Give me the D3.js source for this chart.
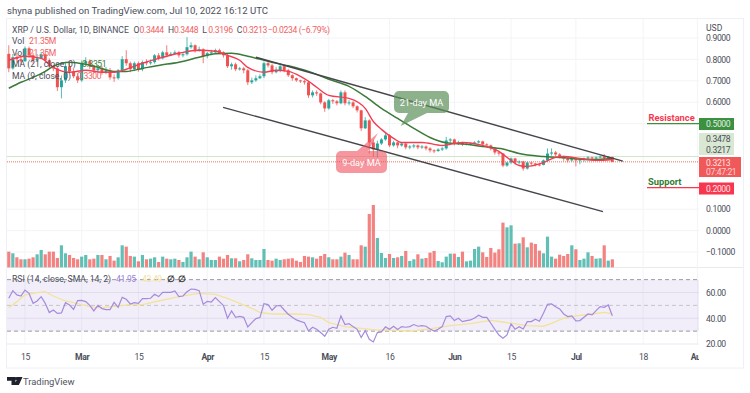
<!DOCTYPE html>
<html>
<head>
<meta charset="utf-8">
<script src="https://cdnjs.cloudflare.com/ajax/libs/d3/7.8.5/d3.min.js"></script>
<style>
  body { margin: 0; background: white; }
  svg { display: block; }
  text { font-family: Roboto, sans-serif; }
</style>
</head>
<body>
<div id="container"></div>
<script>
let w = 750;
let h = 393;

// daily bars, 0 = Feb 11 2022, 149 = Jul 10 2022
const opens = [.826,.758,.810,.801,.791,.852,.819,.796,.805,.824,
  .796,.768,.758,.670,.702,.768,.744,.721,.702,.782,
  .791,.768,.749,.758,.740,.749,.716,.712,.749,.801,
  .782,.754,.782,.754,.787,.782,.787,.819,.805,.833,
  .819,.826,.833,.819,.824,.857,.866,.843,.847,.815,
  .829,.833,.843,.833,.819,.768,.777,.754,.758,.749,
  .693,.702,.712,.721,.782,.772,.740,.749,.768,.749,
  .726,.712,.702,.698,.693,.632,.646,.641,.599,.571,
  .609,.604,.595,.646,.595,.599,.581,.562,.478,.515,
  .412,.379,.407,.426,.445,.398,.412,.398,.407,.389,
  .393,.398,.389,.393,.384,.375,.372,.379,.384,.421,
  .426,.407,.412,.403,.405,.407,.412,.417,.403,.398,
  .384,.365,.360,.304,.318,.337,.318,.323,.290,.318,
  .314,.309,.307,.328,.360,.365,.356,.346,.337,.328,
  .337,.328,.332,.337,.342,.337,.342,.346,.337,.3444];
const closes = [.758,.810,.801,.791,.852,.819,.796,.805,.824,.796,
  .768,.758,.670,.702,.768,.744,.721,.702,.782,.791,
  .768,.749,.758,.740,.749,.716,.712,.749,.801,.782,
  .754,.782,.754,.787,.782,.787,.819,.805,.833,.819,
  .826,.833,.819,.824,.857,.866,.843,.847,.815,.829,
  .833,.843,.833,.819,.768,.777,.754,.758,.749,.693,
  .702,.712,.721,.782,.772,.740,.749,.768,.749,.726,
  .712,.702,.698,.693,.632,.646,.641,.599,.571,.609,
  .604,.595,.646,.595,.599,.581,.562,.478,.515,.412,
  .379,.407,.426,.445,.398,.412,.398,.407,.389,.393,
  .398,.389,.393,.384,.375,.372,.379,.384,.421,.426,
  .407,.412,.403,.405,.407,.412,.417,.403,.398,.384,
  .365,.360,.304,.318,.337,.318,.323,.290,.318,.314,
  .309,.307,.328,.360,.365,.356,.346,.337,.328,.337,
  .328,.332,.337,.342,.337,.342,.346,.337,.3447,.3213];
const highs = [.866,.825,.830,.815,.860,.860,.830,.825,.835,.835,
  .805,.775,.765,.725,.785,.785,.755,.735,.795,.810,
  .800,.775,.775,.770,.765,.760,.730,.755,.815,.843,
  .790,.790,.790,.795,.800,.800,.825,.830,.840,.866,
  .835,.842,.840,.830,.904,.880,.870,.860,.852,.835,
  .845,.850,.850,.838,.825,.785,.785,.765,.765,.755,
  .715,.725,.730,.790,.795,.780,.765,.780,.775,.755,
  .730,.715,.705,.705,.700,.655,.655,.645,.605,.615,
  .615,.610,.655,.655,.610,.605,.585,.565,.530,.520,
  .425,.420,.432,.455,.450,.420,.415,.412,.410,.400,
  .405,.402,.400,.398,.390,.380,.385,.390,.438,.432,
  .430,.420,.415,.410,.412,.418,.423,.420,.408,.402,
  .390,.370,.362,.322,.342,.340,.328,.326,.322,.322,
  .316,.313,.332,.384,.384,.372,.362,.350,.341,.345,
  .342,.338,.342,.348,.345,.346,.350,.358,.348,.3448];
const lows = [.740,.752,.785,.775,.790,.808,.782,.788,.802,.785,
  .755,.745,.652,.618,.690,.735,.712,.690,.695,.772,
  .755,.735,.738,.728,.730,.705,.695,.705,.745,.770,
  .740,.745,.742,.745,.772,.775,.780,.795,.800,.810,
  .815,.822,.808,.810,.818,.850,.832,.835,.782,.805,
  .820,.828,.825,.808,.760,.752,.745,.748,.735,.680,
  .685,.695,.708,.712,.762,.730,.735,.740,.740,.718,
  .700,.695,.690,.682,.620,.622,.630,.590,.555,.565,
  .592,.585,.590,.585,.585,.572,.552,.465,.475,.360,
  .345,.342,.400,.420,.390,.392,.385,.392,.380,.380,
  .385,.380,.382,.375,.365,.362,.368,.372,.378,.412,
  .398,.400,.395,.398,.398,.402,.408,.395,.390,.375,
  .355,.350,.296,.298,.310,.308,.310,.280,.285,.306,
  .300,.300,.305,.322,.350,.345,.338,.326,.318,.322,
  .300,.310,.322,.330,.328,.332,.338,.330,.332,.3196];
// volume in millions
const volumes = [41.8,37.4,26.7,21.4,21.4,23.1,26.7,34.7,46.3,34.7,
  41.8,41.8,24.9,58.7,37.4,32.9,24.9,21.4,28.5,32.9,
  21.4,23.1,32.9,32.9,21.4,30.3,17.8,26.7,58.7,55.2,
  30.3,28.5,16,32.9,21.4,23.1,26.7,14.2,28.5,23.1,
  21.4,23.1,19.6,14.2,26.7,41.8,28.5,21.4,40,26.7,
  19.6,19.6,28.5,23.1,32.9,24,24,16,19.6,34.7,
  24,19.6,19.6,48.9,19.6,17.8,23.1,19.6,21.4,23.1,
  24,17.8,14.2,30.3,28.5,26.7,23.1,30.3,35.6,26.7,
  21.4,21.4,28.5,39.2,32.9,21.4,21.4,58.7,55.2,142.4,
  166.4,78.3,38.3,24.9,35.6,24.9,26.7,30.3,43.6,16.9,
  21.4,34.7,23.1,24.9,39.2,43.6,16.9,13.4,28.5,36.5,
  36.5,27.6,41.8,16,17.8,48.9,55.2,40,27.6,51.6,
  39.2,48.1,119.3,106.8,112.1,63.2,64.1,80.1,53.4,65.9,
  62.3,44.5,37.4,81.9,28.5,23.1,33.8,30.3,35.6,58.7,
  48.1,19.6,23.1,40,30.3,23.1,24,58.7,17.8,21.35];
const rsi = [55.5,61.4,58.1,57.3,61.9,59.3,51.6,53.4,56.8,51.6,
  44.4,46.4,43.8,44.1,52.1,50.3,46.9,53.7,53.9,52.9,
  50.0,45.7,50.0,47.5,46.7,46.7,52.4,48.5,56.2,54.7,
  51.1,52.1,51.6,55.2,55.2,55.5,58.6,56.8,60.1,60.1,
  60.1,61.2,56.8,57.3,60.6,62.7,62.4,61.4,50.8,53.1,
  52.6,56.0,52.9,49.8,40.0,45.7,40.7,41.5,40.7,33.2,
  36.6,39.7,40.5,51.3,50.6,46.2,49.5,50.0,46.4,43.1,
  40.7,38.7,37.6,36.6,30.1,33.0,31.4,28.9,26.0,31.4,
  33.0,32.2,41.8,35.1,35.8,33.5,31.4,25.0,30.4,23.7,
  21.6,28.9,29.4,33.3,31.4,33.8,31.2,33.5,33.0,33.5,
  35.1,33.8,34.3,33.8,31.7,30.1,31.4,33.5,41.3,41.8,
  38.2,40.0,37.4,38.2,38.7,40.2,42.3,40.7,40.7,36.1,
  31.4,27.0,24.5,27.1,35.6,31.5,33.5,31.7,37.4,37.4,
  39.2,37.7,43.9,50.8,51.1,49.0,47.2,43.3,41.3,41.8,
  37.9,38.2,40.8,43.3,42.6,45.9,49.0,48.5,50.3,41.95];

// moving averages at these bars
const ma21Days = [0,3,6,9,11,15,19,22,26,29,33,37,42,47,51,55,59,64,69,74,79,84,88,92,96,100,104,108,113,117,122,126,132,138,144,149];
const ma21Vals = [.665,.693,.716,.744,.768,.787,.777,.763,.744,.744,.758,.772,.787,.810,.826,.829,.815,.791,.770,.744,.707,.674,.627,.571,.524,.478,.435,.410,.403,.393,.381,.360,.346,.339,.332,.337];
const ma9Days = [0,4,8,11,15,19,23,26,29,33,37,42,47,51,54,57,59,63,66,69,72,74,76,79,84,88,90,92,95,97,102,107,112,117,121,124,126,128,132,135,137,141,145,149];
const ma9Vals = [.796,.815,.805,.763,.740,.749,.740,.740,.754,.782,.805,.829,.843,.838,.819,.796,.763,.740,.749,.744,.721,.698,.670,.632,.618,.571,.510,.473,.431,.412,.412,.398,.412,.398,.370,.328,.304,.300,.318,.342,.346,.337,.328,.332];
const rsiMaDays = [0,2,4,7,9,11,14,16,18,21,23,27,30,33,37,40,43,47,51,54,57,60,62,65,68,71,74,77,79,83,87,91,94,99,104,109,114,119,122,125,128,132,134,137,140,144,147,149];
const rsiMaVals = [48.2,52.9,58.1,59.9,60.6,57.3,53.4,52.1,50.6,48.5,48.2,49.5,50.6,50.6,53.4,55.5,57.3,59.3,58.6,55.5,51.6,47.7,44.6,43.3,43.3,43.3,42.8,40.7,36.6,33.5,32.2,30.7,30.9,29.9,31.7,34.3,35.8,38.4,37.1,35.6,34.3,33.8,36.1,40.0,41.8,43.3,44.6,43.49];

// drawn channel lines: [day, price]
const upperChannel = [[61, .810], [151.6, .3244]];
const lowerChannel = [[52.9, .576], [146.7, .089]];

const priceTicks = [.9, .8, .7, .6, .5, .1, 0, -.1];
const rsiTicks = [60, 40, 20];
const timeDays = [4, 18, 32, 49, 63, 79, 94, 110, 124, 140, 156.6, 170];
const timeLabels = ["15", "Mar", "15", "Apr", "15", "May", "16", "Jun", "15", "Jul", "18", "Aug"];
const monthLabels = ["Mar", "Apr", "May", "Jun", "Jul", "Aug"];

const red = "#ef5350";
const green = "#26a69a";
const textCol = "#4a4e5a";
const gridCol = "#f3f4f8";
const smallSize = 8.6;
const tight = "-0.35px";

let left = 7, right = 699, axisRight = 743;

let viz = d3.select("#container").append("svg")
    .attr("width", w)
    .attr("height", h)
    .style("background-color", "white");

viz.append("defs").append("clipPath").attr("id", "pane")
  .append("rect").attr("x", left).attr("y", 19).attr("width", right - left).attr("height", 349);

// SCALES
let xScale = d3.scaleLinear().domain([-0.44, 170.4]).range([left, right]);
let yScale = d3.scaleLinear().domain([-.1, .9]).range([252, 38]);
let volScale = d3.scaleLinear().domain([0, 166.4]).range([267.3, 205]);
let rsiScale = d3.scaleLinear().domain([20, 60]).range([344, 292.5]);

// FRAME
viz.append("rect").attr("x", 6.5).attr("y", 18.5).attr("width", axisRight - 6).attr("height", 349.5)
  .attr("fill", "none").attr("stroke", "#eef0f6");
viz.append("line").attr("x1", 7).attr("x2", axisRight).attr("y1", 267.5).attr("y2", 267.5)
  .attr("stroke", "#e8eaf0");

// GRID
let grid = viz.append("g").attr("clip-path", "url(#pane)");
grid.selectAll(".vgrid").data(timeDays).enter().append("line")
    .attr("class", "vgrid")
    .attr("x1", d => xScale(d)).attr("x2", d => xScale(d))
    .attr("y1", 19).attr("y2", 345)
    .attr("stroke", gridCol);
grid.selectAll(".hgrid").data(priceTicks).enter().append("line")
    .attr("class", "hgrid")
    .attr("x1", left).attr("x2", right)
    .attr("y1", d => yScale(d)).attr("y2", d => yScale(d))
    .attr("stroke", gridCol);

// RSI BAND
viz.append("rect")
    .attr("x", left).attr("width", right - left)
    .attr("y", rsiScale(70)).attr("height", rsiScale(30) - rsiScale(70))
    .attr("fill", "#7e57c2").attr("opacity", .1);
grid.selectAll(".rgrid").data(rsiTicks).enter().append("line")
    .attr("class", "rgrid")
    .attr("x1", left).attr("x2", right)
    .attr("y1", d => rsiScale(d)).attr("y2", d => rsiScale(d))
    .attr("stroke", "#ebebf3");
viz.selectAll(".rsilevel").data([70, 50, 30]).enter().append("line")
    .attr("class", "rsilevel")
    .attr("x1", left).attr("x2", right)
    .attr("y1", d => rsiScale(d)).attr("y2", d => rsiScale(d))
    .attr("stroke", d => d == 50 ? "#c4c4cc" : "#9a9aa3")
    .attr("stroke-dasharray", "4 3");

// VOLUME
let plot = viz.append("g").attr("clip-path", "url(#pane)");
plot.selectAll(".vol").data(volumes).enter().append("rect")
    .attr("class", "vol")
    .attr("x", (d, i) => xScale(i) - 1.6)
    .attr("width", 3.2)
    .attr("y", d => volScale(d))
    .attr("height", d => volScale(0) - volScale(d))
    .attr("fill", (d, i) => closes[i] < opens[i] ? red : green)
    .attr("opacity", .72);

// CURRENT VALUE LINES
plot.append("line").attr("x1", left).attr("x2", right).attr("y1", 156.5).attr("y2", 156.5)
    .attr("stroke", "#cfe6c8");
plot.append("line").attr("x1", left).attr("x2", right)
    .attr("y1", yScale(closes[149])).attr("y2", yScale(closes[149]))
    .attr("stroke", "#e8735f").attr("stroke-dasharray", "1 1");

// CANDLES
let candle = plot.selectAll(".candle").data(closes).enter().append("g").attr("class", "candle")
    .attr("fill", (d, i) => d < opens[i] ? red : green)
    .attr("stroke", (d, i) => d < opens[i] ? red : green);
candle.append("line")
    .attr("x1", (d, i) => xScale(i)).attr("x2", (d, i) => xScale(i))
    .attr("y1", (d, i) => yScale(highs[i])).attr("y2", (d, i) => yScale(lows[i]))
    .attr("stroke-width", 1).attr("opacity", .75);
candle.append("rect")
    .attr("x", (d, i) => xScale(i) - 1.5)
    .attr("width", 3)
    .attr("y", (d, i) => yScale(Math.max(d, opens[i])))
    .attr("height", (d, i) => Math.max(1, Math.abs(yScale(d) - yScale(opens[i]))))
    .attr("stroke", "none");

// LINES
let lineMaker = d3.line()
    .x(d => xScale(d[0]))
    .y(d => yScale(d[1]))
    .curve(d3.curveMonotoneX);
plot.append("path").datum(d3.zip(ma21Days, ma21Vals))
    .attr("d", lineMaker).attr("fill", "none").attr("stroke", "#3b7a38").attr("stroke-width", 1.5);
plot.append("path").datum(d3.zip(ma9Days, ma9Vals))
    .attr("d", lineMaker).attr("fill", "none").attr("stroke", "#f23d55").attr("stroke-width", 1.4);

let straight = d3.line().x(d => xScale(d[0])).y(d => yScale(d[1]));
plot.selectAll(".channel").data([upperChannel, lowerChannel]).enter().append("path")
    .attr("class", "channel")
    .attr("d", straight).attr("fill", "none").attr("stroke", "#45464c").attr("stroke-width", 1.4);

let rsiLine = d3.line().x(d => xScale(d[0])).y(d => rsiScale(d[1]));
plot.append("path").datum(d3.zip(rsiMaDays, rsiMaVals))
    .attr("d", rsiLine).attr("fill", "none").attr("stroke", "#f3e29b").attr("stroke-width", 1.3);
plot.append("path").datum(rsi.map((d, i) => [i, d]))
    .attr("d", rsiLine).attr("fill", "none").attr("stroke", "#a58bdc").attr("stroke-width", 1.2);

// CALLOUTS
function callout(x, y, bw, bh, tip, base, fill, op, label) {
  let p = d3.path();
  let r = 5;
  p.moveTo(x + r, y);
  if (tip[1] < y) { p.lineTo(base[0], y); p.lineTo(tip[0], tip[1]); p.lineTo(base[1], y); }
  p.lineTo(x + bw - r, y);
  p.arcTo(x + bw, y, x + bw, y + r, r);
  p.lineTo(x + bw, y + bh - r);
  p.arcTo(x + bw, y + bh, x + bw - r, y + bh, r);
  if (tip[1] > y + bh) { p.lineTo(base[1], y + bh); p.lineTo(tip[0], tip[1]); p.lineTo(base[0], y + bh); }
  p.lineTo(x + r, y + bh);
  p.arcTo(x, y + bh, x, y + bh - r, r);
  p.lineTo(x, y + r);
  p.arcTo(x, y, x + r, y, r);
  p.closePath();
  viz.append("path").attr("d", p.toString()).attr("fill", fill).attr("opacity", op);
  viz.append("text").attr("x", x + bw / 2).attr("y", y + bh / 2 + 3.5)
      .attr("text-anchor", "middle").attr("font-size", 9.2).attr("fill", "white").text(label);
}
callout(394, 91, 55, 22, [400.7, 126], [408, 427], "#5d9058", .7, "21-day MA");
callout(336, 151, 51, 22, [378, 133], [357, 368], "#f0505e", .6, "9-day MA");

// AXES
let priceAxis = d3.axisRight(yScale).tickValues(priceTicks).tickFormat(d3.format(".4f")).tickSize(0).tickPadding(0);
let gPrice = viz.append("g").attr("transform", "translate(706,0)").call(priceAxis);
let rsiAxis = d3.axisRight(rsiScale).tickValues(rsiTicks).tickFormat(d3.format(".2f")).tickSize(0).tickPadding(0);
let gRsi = viz.append("g").attr("transform", "translate(706,0)").call(rsiAxis);
let timeAxis = d3.axisBottom(xScale).tickValues(timeDays)
    .tickFormat((d, i) => timeLabels[i]).tickSize(0).tickPadding(0);
let gTime = viz.append("g").attr("transform", "translate(0,354)").attr("clip-path", "url(#timeclip)").call(timeAxis);
viz.select("defs").append("clipPath").attr("id", "timeclip")
  .append("rect").attr("x", 0).attr("y", -5).attr("width", right).attr("height", 20);
[gPrice, gRsi, gTime].forEach(function(g) {
  g.select(".domain").remove();
  g.selectAll("text").attr("font-size", smallSize).attr("font-family", "Roboto, sans-serif")
      .attr("fill", textCol).style("letter-spacing", tight);
});
gTime.selectAll("text")
    .attr("font-weight", (d, i) => monthLabels.includes(timeLabels[i]) ? "bold" : "normal");

// PRICE LABELS
function tag(x, y, bw, bh, fill, lines) {
  viz.append("rect").attr("x", x).attr("y", y).attr("width", bw).attr("height", bh).attr("fill", fill);
  lines.forEach(function(l) {
    viz.append("text").attr("x", 706).attr("y", l[1]).attr("font-size", smallSize)
        .style("letter-spacing", tight).attr("fill", l[2]).text(l[0]);
  });
}
tag(699, 133, 35, 22, "#d8e8d2", [["0.3478", 141.8, textCol], ["0.3217", 153.2, textCol]]);
tag(699, 118, 35, 12, "#3c9141", [["0.5000", 127, "#e0eee0"]]);
tag(699, 157, 42, 20, "#f0595a", [["0.3213", 165.6, "#ffe3e3"], ["07:47:21", 175, "#ffd0d0"]]);
tag(699, 182.5, 35, 12, "#f7374f", [["0.2000", 191.6, "#ffe3e3"]]);

viz.append("line").attr("x1", 647).attr("x2", 699).attr("y1", 123.7).attr("y2", 123.7)
    .attr("stroke", "#3c9141").attr("stroke-width", 1.3);
viz.append("line").attr("x1", 647).attr("x2", 699).attr("y1", 187.6).attr("y2", 187.6)
    .attr("stroke", "#f7374f").attr("stroke-width", 1.3);
viz.append("text").attr("x", 648.5).attr("y", 121).attr("font-size", 9.3).attr("font-weight", "bold")
    .attr("fill", "#f7374f").text("Resistance");
viz.append("text").attr("x", 648).attr("y", 184.5).attr("font-size", 9.3).attr("font-weight", "bold")
    .attr("fill", "#2e7d32").text("Support");
viz.append("text").attr("x", 706).attr("y", 31).attr("font-size", smallSize).attr("fill", textCol).text("USD");

// HEADER AND LEGENDS
function label(x, y, str, fill, size) {
  return viz.append("text").attr("x", x).attr("y", y).attr("font-size", size || smallSize)
      .attr("fill", fill || textCol).text(str);
}
function value(x, y, str, fill) {
  return label(x, y, str, fill).style("letter-spacing", tight);
}
label(7, 13.5, "shyna published on TradingView.com, Jul 10, 2022 16:12 UTC", textCol, 9.6)
    .attr("font-family", '"Noto Sans", sans-serif');
label(12, 32.5, "XRP / U.S. Dollar, 1D, BINANCE");
const ohlcLetters = ["O", "H", "L", "C"];
const ohlcVals = ["0.3444", "0.3448", "0.3196", "0.3213"];
ohlcLetters.forEach(function(l, i) {
  label(133.5 + i * 34.4, 32.5, l);
  value(139.5 + i * 34.4, 32.5, ohlcVals[i], "#f0615f");
});
value(268, 32.5, "\u22120.0234 (\u22126.79%)", "#f0615f");
label(12, 44, "Vol");
value(29, 44, "21.35M", "#f0615f");
label(12, 55.5, "Vol");
value(29, 55.5, "21.35M", "#f0615f");
label(12, 67, "MA (21, close, 0)");
value(82, 67, "0.3351", "#3b7a38");
label(12, 79, "MA (9, close, 0)");
value(77, 79, "0.3300", "#f0615f");
label(12, 281.5, "RSI (14, close, SMA, 14, 2)");
value(116, 281.5, "41.95", "#9a80d8");
value(142, 281.5, "43.49", "#f3e29b");
label(167, 281.5, "\u2205", "#333").attr("font-weight", "bold");
label(178, 281.5, "\u2205", "#333").attr("font-weight", "bold");

// FOOTER
viz.append("path").attr("d", "M7 377h8.5v8h-4v-4.2H7z M16.5 377h6l-3.6 8h-4.6l2.6-5.4z").attr("fill", "#1e222d");
viz.append("circle").attr("cx", 16.2).attr("cy", 378.6).attr("r", 1.5).attr("fill", "#1e222d");
label(23, 385, "TradingView", "#50535e", 9.4);
</script>
</body>
</html>
